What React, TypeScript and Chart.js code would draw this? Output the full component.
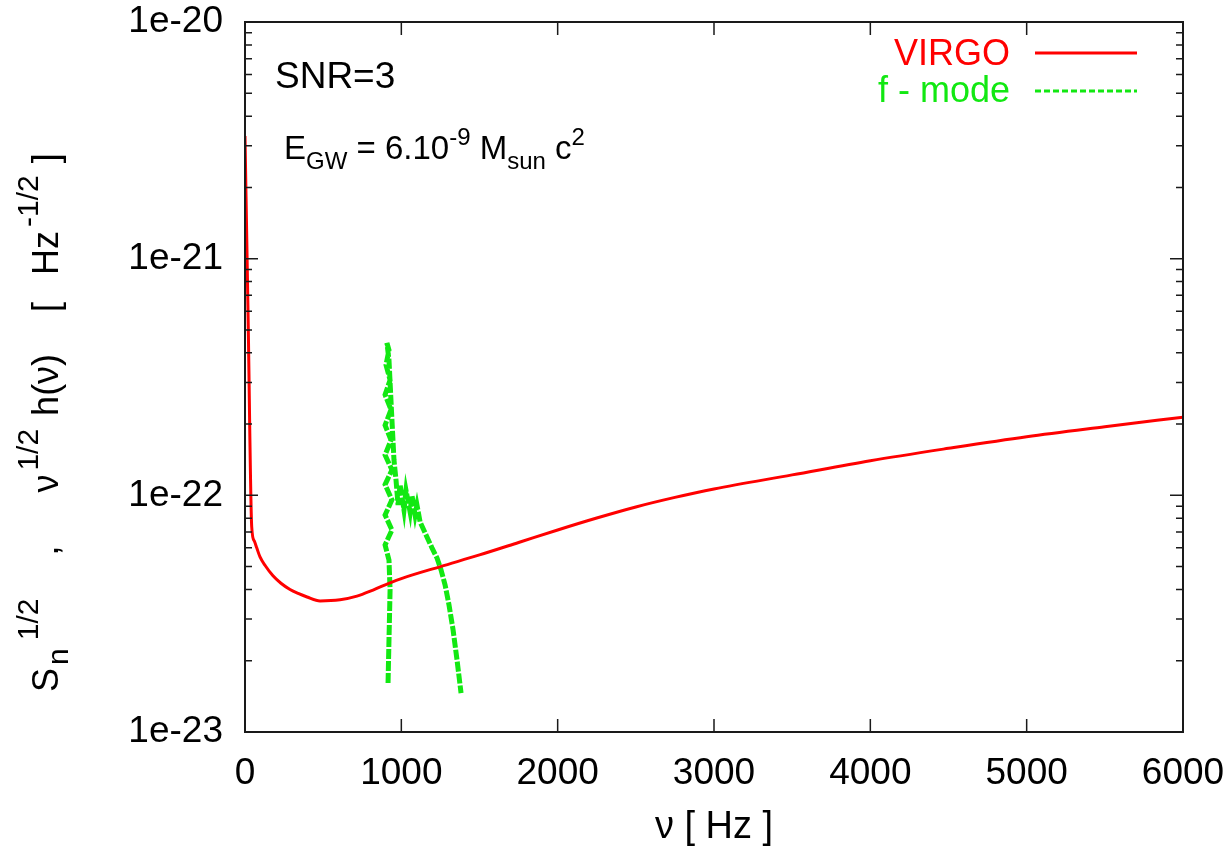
import React, { useEffect, useRef } from "react";
import { Chart, registerables } from "chart.js";

Chart.register(...registerables);

// VIRGO sensitivity curve, S_n^{1/2} in Hz^{-1/2}
const virgoFreq = [0, 20, 43, 60, 75, 96, 130, 179, 230, 288, 340, 397, 480, 608, 716, 819, 928, 1000, 1250, 1500, 1750, 2000, 2250, 2500, 2750, 3000, 3500, 4000, 4500, 5000, 5500, 6000];
const virgoAmp = [3.3e-21, 5.6e-22, 7.35e-23, 6.4e-23, 6.0e-23, 5.49e-23, 5.04e-23, 4.57e-23, 4.25e-23, 4.0e-23, 3.85e-23, 3.72e-23, 3.58e-23, 3.62e-23, 3.75e-23, 3.98e-23, 4.27e-23, 4.45e-23, 5.0e-23, 5.6e-23, 6.32e-23, 7.14e-23, 8.02e-23, 8.93e-23, 9.8e-23, 1.064e-22, 1.22e-22, 1.4e-22, 1.58e-22, 1.77e-22, 1.95e-22, 2.14e-22];

// f-mode signal, nu^{1/2} h(nu), traced along its noisy band
const fmodeFreq = [915, 921, 928, 921, 896, 940, 896, 940, 896, 940, 896, 934, 896, 934, 896, 928, 902, 921, 908, 921, 940, 953, 966, 979, 992, 1017, 1030, 1056, 1068, 1088, 1100, 1120, 1158, 1196, 1228, 1254, 1280, 1305, 1331, 1356, 1382];
const fmodeAmp = [1.61e-23, 2.45e-23, 3.98e-23, 5.33e-23, 6.17e-23, 7.14e-23, 8.26e-23, 9.57e-23, 1.11e-22, 1.28e-22, 1.48e-22, 1.71e-22, 1.98e-22, 2.3e-22, 2.66e-22, 3.07e-22, 3.56e-22, 4.11e-22, 4.4e-22, 3.73e-22, 2.08e-22, 1.41e-22, 1.16e-22, 9.1e-23, 1.11e-22, 8.67e-23, 1.05e-22, 8.51e-23, 1.0e-22, 8.26e-23, 9.1e-23, 7.72e-23, 6.8e-23, 6.0e-23, 5.44e-23, 4.84e-23, 4.18e-23, 3.44e-23, 2.7e-23, 2.02e-23, 1.46e-23];

const xTicks = [0, 1000, 2000, 3000, 4000, 5000, 6000];
const yTicks = [1e-23, 1e-22, 1e-21, 1e-20];

const FONT = '"Liberation Sans", Arial, Helvetica, sans-serif';
const RED = "#ff0000";
const GREEN = "#12e812";

type Part = { t?: string; size?: number; shift?: number; gap?: number };

function drawParts(ctx: CanvasRenderingContext2D, parts: Part[], x: number, y: number) {
  let cx = x;
  for (const p of parts) {
    if (p.gap !== undefined) {
      cx += p.gap;
      continue;
    }
    ctx.font = `${p.size}px ${FONT}`;
    ctx.fillText(p.t as string, cx, y + (p.shift || 0));
    cx += ctx.measureText(p.t as string).width;
  }
}

const framePlugin = {
  id: "frameAndText",
  afterDatasetsDraw(chart: any) {
    const { ctx, chartArea: a, scales } = chart;
    const xs = scales.x;
    const ys = scales.y;
    ctx.save();
    ctx.strokeStyle = "#1a1a1a";
    ctx.lineWidth = 2;
    ctx.strokeRect(a.left, a.top, a.right - a.left, a.bottom - a.top);

    // inward ticks on all four sides
    const major = 13;
    const minor = 7;
    ctx.lineWidth = 1.5;
    ctx.beginPath();
    for (const v of xTicks) {
      const px = xs.getPixelForValue(v);
      ctx.moveTo(px, a.bottom);
      ctx.lineTo(px, a.bottom - major);
      ctx.moveTo(px, a.top);
      ctx.lineTo(px, a.top + major);
    }
    for (let d = 0; d < yTicks.length; d++) {
      const base = yTicks[d];
      const py = ys.getPixelForValue(base);
      ctx.moveTo(a.left, py);
      ctx.lineTo(a.left + major, py);
      ctx.moveTo(a.right, py);
      ctx.lineTo(a.right - major, py);
      if (d < yTicks.length - 1) {
        for (let m = 2; m <= 9; m++) {
          const pm = ys.getPixelForValue(base * m);
          ctx.moveTo(a.left, pm);
          ctx.lineTo(a.left + minor, pm);
          ctx.moveTo(a.right, pm);
          ctx.lineTo(a.right - minor, pm);
        }
      }
    }
    ctx.stroke();

    // legend: text to the left of the line sample
    ctx.textBaseline = "alphabetic";
    const ds = chart.data.datasets;
    const rows = [
      { y: 65, ly: 53 },
      { y: 102, ly: 91 },
    ];
    ds.forEach((d: any, i: number) => {
      const r = rows[i];
      ctx.font = `36px ${FONT}`;
      ctx.fillStyle = d.borderColor;
      ctx.textAlign = "right";
      ctx.fillText(d.label, 1010, r.y);
      ctx.beginPath();
      ctx.strokeStyle = d.borderColor;
      ctx.lineWidth = 3;
      ctx.setLineDash(d.borderDash && d.borderDash.length ? [6, 3] : []);
      ctx.moveTo(1035, r.ly);
      ctx.lineTo(1137, r.ly);
      ctx.stroke();
      ctx.setLineDash([]);
    });

    // annotations
    ctx.fillStyle = "#000";
    ctx.textAlign = "left";
    ctx.font = `37px ${FONT}`;
    ctx.fillText("SNR=3", 275, 88);
    drawParts(
      ctx,
      [
        { t: "E", size: 33, shift: 0 },
        { t: "GW", size: 24, shift: 10 },
        { t: " = 6.10", size: 33, shift: 0 },
        { t: "-9", size: 24, shift: -14 },
        { t: " M", size: 33, shift: 0 },
        { t: "sun", size: 24, shift: 10 },
        { t: " c", size: 33, shift: 0 },
        { t: "2", size: 24, shift: -14 },
      ],
      284,
      159
    );

    // y-axis title, rotated, reading upward from the bottom
    const yParts: Part[] = [
      { t: "S", size: 36, shift: 0 },
      { gap: 3 },
      { t: "n", size: 30, shift: 10 },
      { gap: 8 },
      { t: "1/2", size: 30, shift: -20 },
      { gap: 43 },
      { t: ",", size: 36, shift: 0 },
      { gap: 53 },
      { t: "ν", size: 36, shift: 0 },
      { gap: 4 },
      { t: "1/2", size: 30, shift: -20 },
      { gap: 13 },
      { t: "h(ν)", size: 36, shift: 0 },
      { gap: 42 },
      { t: "[", size: 36, shift: 0 },
      { gap: 27 },
      { t: "Hz", size: 36, shift: 0 },
      { gap: 4 },
      { t: "-1/2", size: 30, shift: -20 },
      { gap: 12 },
      { t: "]", size: 36, shift: 0 },
    ];
    ctx.translate(58, 692);
    ctx.rotate(-Math.PI / 2);
    drawParts(ctx, yParts, 0, 0);
    ctx.restore();
  },
};

export default function App() {
  const canvasRef = useRef<HTMLCanvasElement | null>(null);

  useEffect(() => {
    const canvas = canvasRef.current;
    if (!canvas) return;
    const tickFont = { family: FONT, size: 37 };
    const chart = new Chart(canvas, {
      type: "line",
      data: {
        datasets: [
          {
            label: "VIRGO",
            data: virgoFreq.map((f, i) => ({ x: f, y: virgoAmp[i] })),
            borderColor: RED,
            borderWidth: 3,
            pointRadius: 0,
            cubicInterpolationMode: "monotone",
            borderJoinStyle: "round",
            fill: false,
          },
          {
            label: "f - mode",
            data: fmodeFreq.map((f, i) => ({ x: f, y: fmodeAmp[i] })),
            borderColor: GREEN,
            borderWidth: 5,
            borderDash: [10, 2],
            pointRadius: 0,
            tension: 0,
            fill: false,
          },
        ],
      },
      options: {
        responsive: false,
        animation: false,
        events: [],
        layout: { padding: { top: 22, right: 49, left: 0, bottom: 0 } },
        plugins: {
          legend: { display: false },
          tooltip: { enabled: false },
        },
        scales: {
          x: {
            type: "linear",
            min: 0,
            max: 6000,
            afterBuildTicks: (s: any) => {
              s.ticks = xTicks.map((v) => ({ value: v }));
            },
            afterFit: (s: any) => {
              s.height = 118;
              s.paddingLeft = 0;
              s.paddingRight = 0;
            },
            grid: { display: false, drawTicks: false },
            border: { display: false },
            ticks: {
              font: tickFont,
              color: "#000",
              padding: 20,
              maxRotation: 0,
              autoSkip: false,
              callback: (v: any) => String(v),
            },
            title: {
              display: true,
              text: "ν [ Hz ]",
              font: { family: FONT, size: 38 },
              color: "#000",
              padding: { top: 0, bottom: 0 },
            },
          },
          y: {
            type: "logarithmic",
            min: 1e-23,
            max: 1e-20,
            afterBuildTicks: (s: any) => {
              s.ticks = yTicks.map((v) => ({ value: v }));
            },
            afterFit: (s: any) => {
              s.width = 245;
              s.paddingTop = 0;
              s.paddingBottom = 0;
            },
            grid: { display: false, drawTicks: false },
            border: { display: false },
            ticks: {
              font: tickFont,
              color: "#000",
              padding: 22,
              autoSkip: false,
              callback: (v: any) => `1e${Math.round(Math.log10(Number(v)))}`,
            },
          },
        },
      },
      plugins: [framePlugin],
    } as any);
    return () => chart.destroy();
  }, []);

  return (
    <div style={{ position: "absolute", left: 0, top: 0, width: 1232, height: 850, background: "#fff" }}>
      <canvas ref={canvasRef} width={1232} height={850} />
    </div>
  );
}
